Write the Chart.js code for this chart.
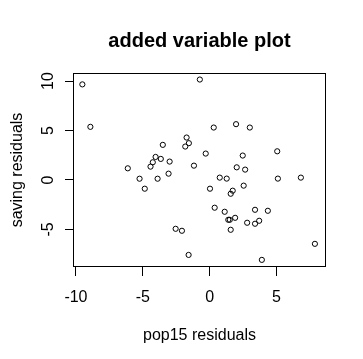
<!DOCTYPE html>
<html>
<head>
<meta charset="utf-8">
<script src="https://cdn.jsdelivr.net/npm/chart.js@4.4.0/dist/chart.umd.min.js"></script>
<style>
  html, body { margin: 0; padding: 0; background: #fff; }
  #wrap { width: 363px; height: 359px; }
</style>
</head>
<body>
<div id="wrap"><canvas id="plot" width="363" height="359"></canvas></div>
<script>
// residuals
const pop15Resid = [
  -9.52, -0.73, -8.92, -1.72, -1.82, -1.55, -3.50, -4.04, -3.65, -4.25,
  -4.42, -2.99, -6.12, -1.17, -5.24, -3.89, -3.07, -4.85, -2.54, -2.07,
  -1.57, 0.31, 1.98, 3.01, -0.29, 2.48, 5.06, 2.03, 2.66, 0.76,
  1.28, 5.11, 6.83, 0.03, 2.55, 1.73, 1.58, 0.38, 1.13, 3.40,
  4.36, 1.40, 1.51, 1.91, 2.81, 3.40, 3.71, 1.58, 7.88, 3.91
];
const savingResid = [
  9.66, 10.15, 5.37, 4.29, 3.38, 3.72, 3.55, 2.33, 2.13, 1.79,
  1.35, 1.86, 1.18, 1.45, 0.13, 0.13, 0.64, -0.88, -4.93, -5.13,
  -7.57, 5.30, 5.64, 5.30, 2.67, 2.47, 2.90, 1.28, 1.05, 0.24,
  0.14, 0.14, 0.24, -0.88, -0.57, -1.08, -1.39, -2.80, -3.21, -3.01,
  -3.11, -4.02, -4.02, -3.82, -4.32, -4.42, -4.12, -5.03, -6.45, -8.07
];
const xTicks = [-10, -5, 0, 5];
const yTicks = [-5, 0, 5, 10];

const fam = '"Liberation Sans", Arial, sans-serif';

const points = pop15Resid.map((x, i) => ({ x: x, y: savingResid[i] }));

// R style box round the plot region
const boxPlugin = {
  id: 'box',
  afterDraw(chart) {
    const a = chart.chartArea;
    const c = chart.ctx;
    c.save();
    c.strokeStyle = '#000';
    c.lineWidth = 1;
    c.strokeRect(Math.round(a.left) + 0.5, Math.round(a.top) + 0.5,
      Math.round(a.right - a.left) - 1, Math.round(a.bottom - a.top) - 1);
    c.restore();
  }
};

new Chart(document.getElementById('plot'), {
  type: 'scatter',
  data: {
    datasets: [{
      data: points,
      pointStyle: 'circle',
      pointRadius: 2.6,
      pointBorderWidth: 1,
      borderColor: '#000',
      backgroundColor: 'rgba(0,0,0,0)'
    }]
  },
  options: {
    responsive: false,
    animation: false,
    layout: { padding: { left: 0, right: 37, top: 0, bottom: 0 } },
    plugins: {
      legend: { display: false },
      tooltip: { enabled: false },
      title: {
        display: true,
        text: 'added variable plot',
        fullSize: false,
        color: '#000',
        font: { family: fam, size: 20, weight: 'bold' },
        padding: { top: 29, bottom: 20 }
      }
    },
    scales: {
      x: {
        type: 'linear',
        min: -10.22,
        max: 8.71,
        afterBuildTicks: s => { s.ticks = xTicks.map(v => ({ value: v })); },
        afterFit: s => { s.height = 92; },
        border: { display: false },
        grid: { drawOnChartArea: false, drawTicks: true, tickLength: 9, color: '#000' },
        ticks: { color: '#000', font: { family: fam, size: 16 }, padding: 12, maxRotation: 0 },
        title: {
          display: true,
          text: 'pop15 residuals',
          color: '#000',
          font: { family: fam, size: 16 },
          padding: { top: 0, bottom: 14 }
        }
      },
      y: {
        type: 'linear',
        min: -8.79,
        max: 10.81,
        afterBuildTicks: s => { s.ticks = yTicks.map(v => ({ value: v })); },
        afterFit: s => { s.width = 73; },
        border: { display: false },
        grid: { drawOnChartArea: false, drawTicks: true, tickLength: 8, color: '#000' },
        ticks: {
          color: '#000', font: { family: fam, size: 16 }, padding: 8,
          minRotation: 90, maxRotation: 90, crossAlign: 'center'
        },
        title: {
          display: true,
          text: 'saving residuals',
          color: '#000',
          font: { family: fam, size: 16 },
          padding: { top: 8, bottom: 0 }
        }
      }
    }
  },
  plugins: [boxPlugin]
});
</script>
</body>
</html>
